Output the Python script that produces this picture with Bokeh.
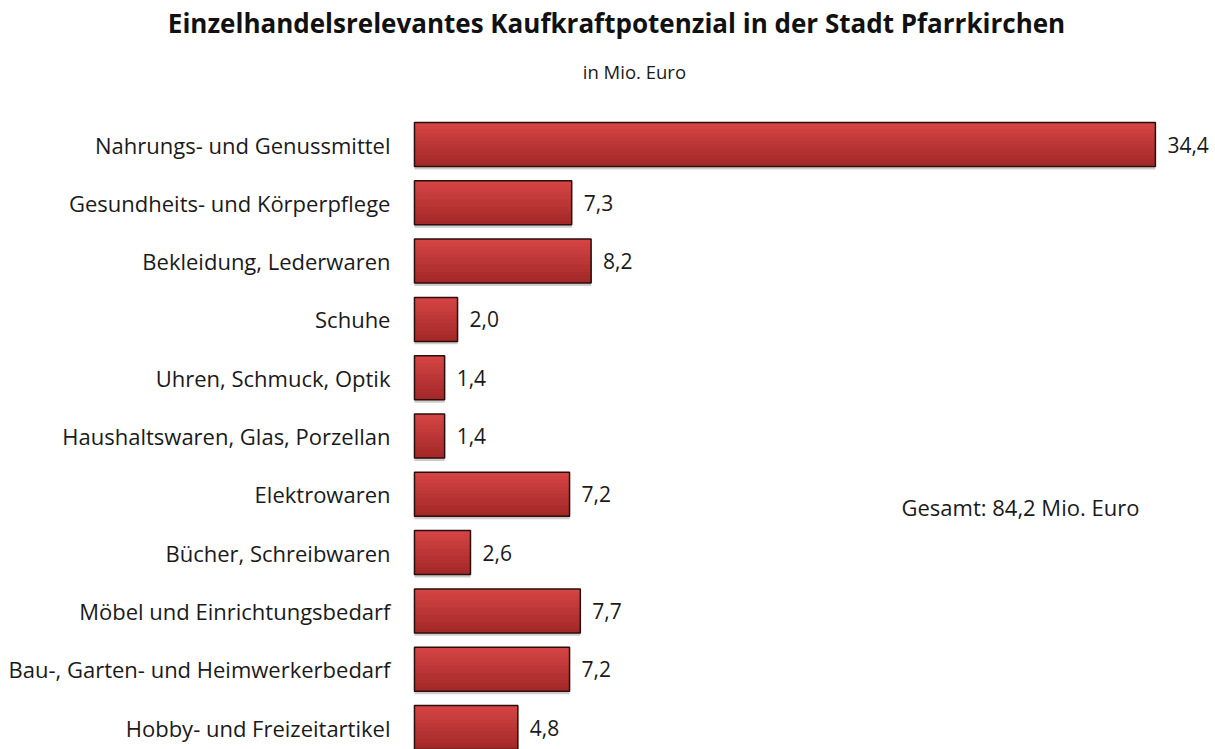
from bokeh.plotting import figure
from bokeh.models import Range1d, Label, ColumnDataSource
from bokeh.transform import dodge
from bokeh.embed import file_html
from bokeh.resources import INLINE
from bokeh.core.properties import value

categories = [
    "Nahrungs- und Genussmittel",
    "Gesundheits- und Körperpflege",
    "Bekleidung, Lederwaren",
    "Schuhe",
    "Uhren, Schmuck, Optik",
    "Haushaltswaren, Glas, Porzellan",
    "Elektrowaren",
    "Bücher, Schreibwaren",
    "Möbel und Einrichtungsbedarf",
    "Bau-, Garten- und Heimwerkerbedarf",
    "Hobby- und Freizeitartikel",
]
values = [34.4, 7.3, 8.2, 2.0, 1.4, 1.4, 7.2, 2.6, 7.7, 7.2, 4.8]
title_text = "Einzelhandelsrelevantes Kaufkraftpotenzial in der Stadt Pfarrkirchen"
subtitle_text = "in Mio. Euro"

def de(v):
    return f"{v:.1f}".replace(".", ",")

total = sum(values)
n = len(categories)
ypos = [n - 1 - i for i in range(n)]
src = ColumnDataSource(dict(y=ypos, v=values, lab=[de(v) for v in values],
                            cat=categories, zero=[0] * n))

FONT = "Open Sans"
TXT = "#1a1a1a"
W, H = 1215, 749
p = figure(width=W, height=H, output_backend="svg", toolbar_location=None,
           x_range=Range1d(-19.22, 37.19), y_range=Range1d(-0.377, 12.47),
           min_border_left=0, min_border_right=0, min_border_top=0, min_border_bottom=0)
p.outline_line_color = None
p.grid.visible = False
p.xaxis.visible = False
p.yaxis.visible = False

BH = 0.755
# shadow
p.hbar(y=dodge("y", -0.05, range=p.y_range), left=0, right="v", height=BH, source=src,
       fill_color="#000000", fill_alpha=0.2, line_color=None)
# vertical gradient via overlapping strips
top_c = (212, 68, 68)
bot_c = (164, 40, 40)
NS = 12
for i in range(NS):
    t = i / (NS - 1)
    c = tuple(int(round(top_c[k] + (bot_c[k] - top_c[k]) * t)) for k in range(3))
    h = BH - i * BH / NS
    off = (BH / 2 - i * BH / NS - BH / 2) / 2
    p.hbar(y=dodge("y", off, range=p.y_range), left=0, right="v", height=h,
           source=src, fill_color="#%02x%02x%02x" % c, line_color=None)
p.hbar(y="y", left=0, right="v", height=BH, source=src, fill_color=None,
       line_color="#2b0d0d", line_width=1.5)

# category labels
p.text(x="zero", y="y", text="cat", source=src, x_offset=-24, text_baseline="middle",
       text_align="right", text_font=value(FONT), text_font_size="22px", text_color=TXT)
# value labels
p.text(x="v", y="y", text="lab", source=src, x_offset=12, text_baseline="middle",
       text_align="left", text_font=value(FONT), text_font_size="21px", text_color=TXT)

p.add_layout(Label(x=9.38, y=12.09, text=title_text, text_align="center", text_baseline="middle",
                   text_font=FONT, text_font_size="26px", text_font_style="bold", text_color="#111111"))
p.add_layout(Label(x=10.21, y=11.25, text=subtitle_text, text_align="center", text_baseline="middle",
                   text_font=FONT, text_font_size="18.5px", text_color=TXT))
p.add_layout(Label(x=22.61, y=3.79, text=f"Gesamt: {de(total)} Mio. Euro", text_align="left",
                   text_baseline="middle", text_font=FONT, text_font_size="22px", text_color=TXT))

open("out.html", "w").write(file_html(p, INLINE))
